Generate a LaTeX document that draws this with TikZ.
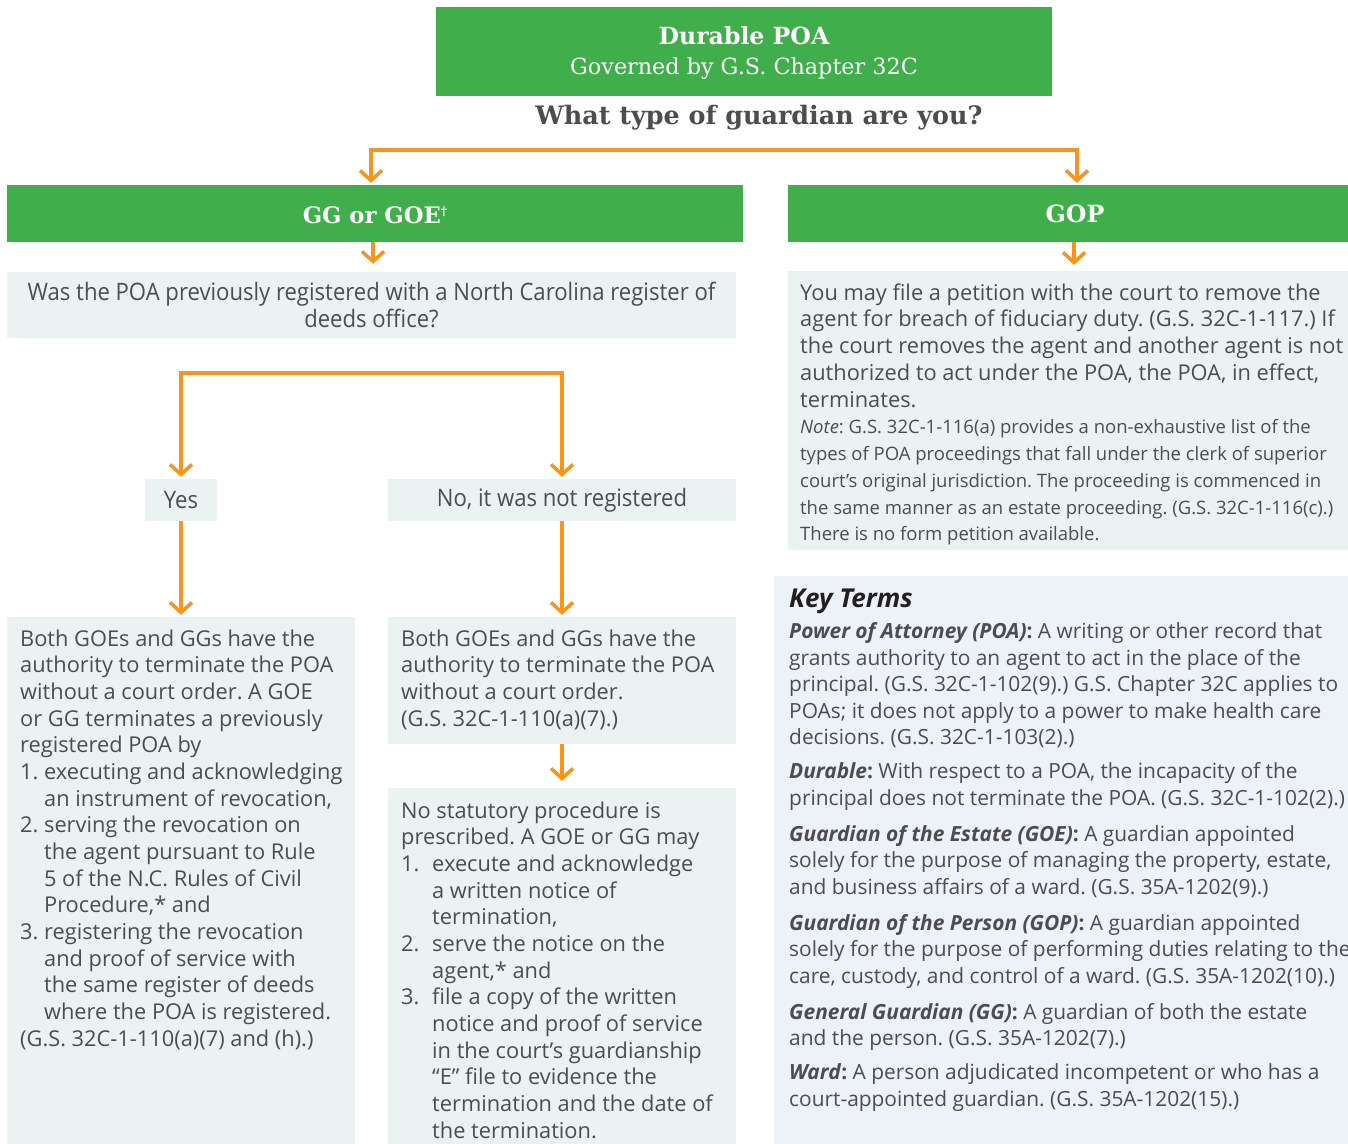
\documentclass[tikz,border=0pt]{standalone}
\usepackage{fontspec}
\setmainfont{Open Sans}
\newfontfamily\headfont{DejaVu Serif}
\newfontfamily\condfont[FakeStretch=0.92]{Open Sans}
\usetikzlibrary{arrows.meta}
\frenchspacing
\definecolor{ggreen}{HTML}{40AE4A}
\definecolor{gorange}{HTML}{F7941D}
\definecolor{pmint}{HTML}{EAF3F2}
\definecolor{pblue}{HTML}{EDF1F8}
\definecolor{tgray}{HTML}{4D4D4F}
\definecolor{tdark}{HTML}{231F20}
\tikzset{
  greenbox/.style={fill=ggreen, draw=none, inner sep=0pt},
  headtext/.style={inner sep=0pt, text=white},
  panel/.style={fill=pmint, draw=none, inner sep=0pt},
  keypanel/.style={fill=pblue, draw=none, inner sep=0pt},
  body/.style={inner sep=0pt, anchor=north west, align=left, text=tgray, font=\frenchspacing\fontsize{21.8}{26.67}\selectfont},
  condtext/.style={inner sep=0pt, text=tgray, font=\condfont\fontsize{24}{27}\selectfont},
  chev/.tip={Straight Barb[length=10pt,width=22pt]},
  arr/.style={draw=gorange, line width=3.5pt, -chev},
  arrboth/.style={draw=gorange, line width=3.5pt, chev-chev},
}
\newcommand{\hang}{\hphantom{1.\ }}
\newcommand{\hangb}{\hspace*{31pt}}
\newcommand{\nt}{\fontsize{18.5}{26.75}\selectfont}
\begin{document}
\begin{tikzpicture}[x=1pt,y=-1pt]
\clip (0,0) rectangle (1348,1143);
\fill[white] (0,0) rectangle (1348,1143);

% green headers
\node[greenbox, minimum width=616pt, minimum height=89pt] (top) at (744,51.5) {};
\node[headtext, font=\headfont\bfseries\fontsize{23.6}{28}\selectfont] (toptitle) at (744,36) {Durable POA};
\node[headtext, font=\headfont\fontsize{22.3}{28}\selectfont] (topsub) at (744,69) {Governed by G.S. Chapter 32C};
\node[inner sep=0pt, text=tgray, font=\headfont\bfseries\fontsize{25.4}{30}\selectfont] (ask) at (759,118) {What type of guardian are you?};
\node[greenbox, minimum width=736pt, minimum height=57pt] (gg) at (375,213.5) {};
\node[headtext, font=\headfont\bfseries\fontsize{22.7}{28}\selectfont] (ggt) at (375,215)
  {GG or GOE\raisebox{8pt}{\fontsize{12}{12}\selectfont †}};
\node[greenbox, minimum width=572pt, minimum height=57pt] (gop) at (1074,213.5) {};
\node[headtext, font=\headfont\bfseries\fontsize{23.7}{28}\selectfont] (gopt0) at (1075,214) {GOP};

% panels
\node[panel, minimum width=729pt, minimum height=66pt] (q) at (371.5,305) {};
\node[panel, minimum width=72pt, minimum height=42pt] (yes) at (181,500) {};
\node[panel, minimum width=348pt, minimum height=42pt] (no) at (562,500) {};
\node[panel, minimum width=348pt, minimum height=533pt] (left) at (181,883.5) {};
\node[panel, minimum width=348pt, minimum height=127pt] (mida) at (562,680.5) {};
\node[panel, minimum width=348pt, minimum height=362pt] (midb) at (562,969) {};
\node[panel, minimum width=572pt, minimum height=279pt] (gopp) at (1074,410.5) {};
\node[keypanel, minimum width=586pt, minimum height=574pt] (key) at (1067,863) {};

% panel texts
\node[condtext, align=center] (qt) at (371.5,305)
  {Was the POA previously registered with a North Carolina register of\\deeds office?};
\node[condtext] (yest) at (yes.center) {Yes};
\node[condtext] (not) at (no.center) {No, it was not registered};

\node[body] (leftt) at (20,629.3) {Both GOEs and GGs have the\\
authority to terminate the POA\\
without a court order. A GOE\\
or GG terminates a previously\\
registered POA by\\
1. executing and acknowledging\\
\hang an instrument of revocation,\\
2. serving the revocation on\\
\hang the agent pursuant to Rule\\
\hang 5 of the N.C. Rules of Civil\\
\hang Procedure,* and\\
3. registering the revocation\\
\hang and proof of service with\\
\hang the same register of deeds\\
\hang where the POA is registered.\\
(G.S. 32C-1-110(a)(7) and (h).)};

\node[body] (midat) at (401,629.3) {Both GOEs and GGs have the\\
authority to terminate the POA\\
without a court order.\\
(G.S. 32C-1-110(a)(7).)};

\node[body] (midbt) at (401,801.3) {No statutory procedure is\\
prescribed. A GOE or GG may\\
\makebox[31pt][l]{1.}execute and acknowledge\\
\hangb a written notice of\\
\hangb termination,\\
\makebox[31pt][l]{2.}serve the notice on the\\
\hangb agent,* and\\
\makebox[31pt][l]{3.}file a copy of the written\\
\hangb notice and proof of service\\
\hangb in the court’s guardianship\\
\hangb “E” file to evidence the\\
\hangb termination and the date of\\
\hangb the termination.};

\node[body, font=\frenchspacing\fontsize{21.8}{26.75}\selectfont] (gopt) at (800,283.3) {You may file a petition with the court to remove the\\
agent for breach of fiduciary duty. (G.S. 32C-1-117.) If\\
the court removes the agent and another agent is not\\
authorized to act under the POA, the POA, in effect,\\
terminates.\\
{\nt\itshape Note}{\nt: G.S. 32C-1-116(a) provides a non-exhaustive list of the}\\
{\nt types of POA proceedings that fall under the clerk of superior}\\
{\nt court’s original jurisdiction. The proceeding is commenced in}\\
{\nt the same manner as an estate proceeding. (G.S. 32C-1-116(c).)}\\
{\nt There is no form petition available.}};

\node[body, font=\frenchspacing\fontsize{20.9}{26.5}\selectfont] (keyt) at (789,588.5) {{\color{tdark}\bfseries\itshape\fontsize{26}{26.5}\selectfont Key Terms}\\[5pt]
\textbf{\textit{Power of Attorney (POA)}:} A writing or other record that\\
grants authority to an agent to act in the place of the\\
principal. (G.S. 32C-1-102(9).) G.S. Chapter 32C applies to\\
POAs; it does not apply to a power to make health care\\
decisions. (G.S. 32C-1-103(2).)\\[7.5pt]
\textbf{\textit{Durable}:} With respect to a POA, the incapacity of the\\
principal does not terminate the POA. (G.S. 32C-1-102(2).)\\[9.5pt]
\textbf{\textit{Guardian of the Estate (GOE)}:} A guardian appointed\\
solely for the purpose of managing the property, estate,\\
and business affairs of a ward. (G.S. 35A-1202(9).)\\[9.5pt]
\textbf{\textit{Guardian of the Person (GOP)}:} A guardian appointed\\
solely for the purpose of performing duties relating to the\\
care, custody, and control of a ward. (G.S. 35A-1202(10).)\\[9.5pt]
\textbf{\textit{General Guardian (GG)}:} A guardian of both the estate\\
and the person. (G.S. 35A-1202(7).)\\[7.5pt]
\textbf{\textit{Ward}:} A person adjudicated incompetent or who has a\\
court-appointed guardian. (G.S. 35A-1202(15).)};

% connectors
\coordinate (splitR) at (1077,150);
\coordinate (branchR) at (562,373);
\draw[arrboth, shorten <=2pt, shorten >=2pt] ([xshift=-4pt]gg.north) |- (splitR) -- (splitR |- gop.north);
\draw[arr, shorten >=8pt] ([xshift=-2pt]gg.south) -- ([xshift=-2pt]gg.south |- q.north);
\draw[arr, shorten >=6pt] (gop.south) -- (gop.south |- gopp.north);
\draw[arrboth, shorten <=2pt, shorten >=2pt] (yes.north) |- (branchR) -- (no.north);
\draw[arr, shorten >=2pt] (yes.south) -- (left.north);
\draw[arr, shorten >=2pt] (no.south) -- (mida.north);
\draw[arr, shorten >=7pt] (mida.south) -- (midb.north);
\end{tikzpicture}
\end{document}
